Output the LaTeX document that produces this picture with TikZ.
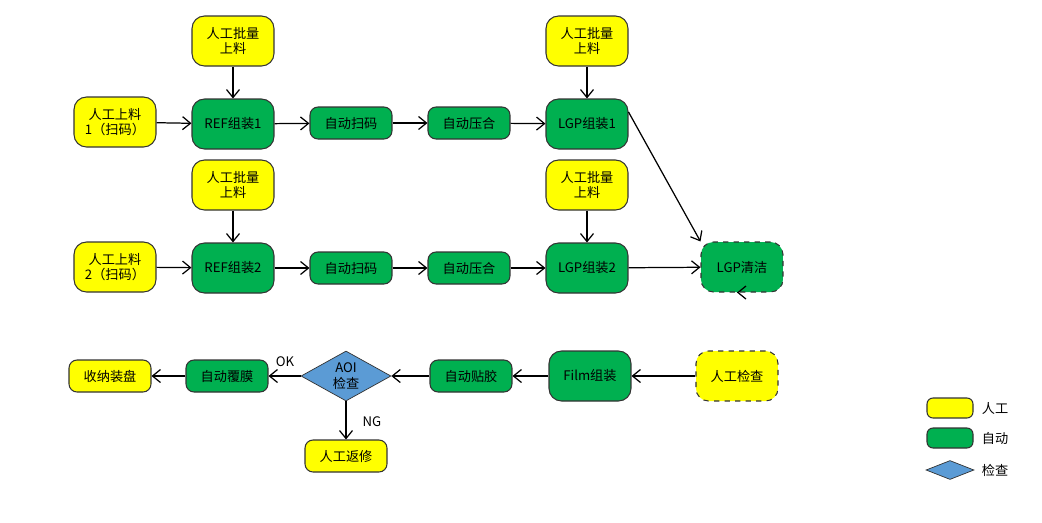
\documentclass[tikz,border=0pt]{standalone}
\usepackage{fontspec}
\setmainfont{Noto Sans CJK SC}
\usetikzlibrary{arrows.meta,shapes.geometric}
\definecolor{yel}{HTML}{FFFF00}
\definecolor{grn}{HTML}{00B050}
\definecolor{blu}{HTML}{5B9BD5}
\begin{document}
\begin{tikzpicture}[x=0.02cm,y=-0.02cm,
 font=\fontsize{7.5}{9}\selectfont,
 box/.style={draw=black!80,rounded corners=2.5mm,minimum width=1.64cm,align=center,inner sep=1pt,line width=0.6pt},
 big/.style={box,minimum height=1.0cm},
 small/.style={box,minimum height=0.64cm,rounded corners=1.6mm},
 Y/.style={fill=yel},G/.style={fill=grn},
 dia/.style={diamond,aspect=1.8,draw=black!80,fill=blu,minimum width=1.8cm,minimum height=1.0cm,inner sep=0pt,align=center},
 ar/.style={-{Straight Barb[length=1.6mm,width=2.6mm]},line width=0.7pt}]
\useasboundingbox (0,0) rectangle (1042,522);
\node[big,Y] (t1) at (233,41) {人工批量\\上料};
\node[big,Y] (t2) at (587,41) {人工批量\\上料};
\node[big,Y] (m1) at (115,122) {人工上料\\1（扫码）};
\node[big,G] (r1) at (233,124) {REF组装1};
\node[small,G] (s1) at (351,123) {自动扫码};
\node[small,G] (p1) at (469,123) {自动压合};
\node[big,G] (l1) at (587,124) {LGP组装1};
\node[big,Y] (t3) at (233,185) {人工批量\\上料};
\node[big,Y] (t4) at (587,185) {人工批量\\上料};
\node[big,Y] (m2) at (115,267) {人工上料\\2（扫码）};
\node[big,G] (r2) at (233,268) {REF组装2};
\node[small,G] (s2) at (351,268) {自动扫码};
\node[small,G] (p2) at (469,268) {自动压合};
\node[big,G] (l2) at (587,268) {LGP组装2};
\node[big,G,dashed] (c) at (742,267) {LGP清洁};
\node[big,Y,dashed] (k) at (737,376) {人工检查};
\node[big,G] (f) at (590,376) {Film组装};
\node[small,G] (g) at (471,376) {自动贴胶};
\node[dia] (a) at (346,376) {AOI\\检查};
\node[small,G] (o) at (227,376) {自动覆膜};
\node[small,Y] (n) at (110,376) {收纳装盘};
\node[small,Y] (rw) at (346,456) {人工返修};
\node (ok) at (285,362) {OK};
\node (ng) at (372,422) {NG};
\draw[ar] (t1)--(r1); \draw[ar] (t2)--(l1);
\draw[ar] (m1)--(r1); \draw[ar] (r1)--(s1); \draw[ar] (s1)--(p1); \draw[ar] (p1)--(l1);
\draw[ar] (t3)--(r2); \draw[ar] (t4)--(l2);
\draw[ar] (m2)--(r2); \draw[ar] (r2)--(s2); \draw[ar] (s2)--(p2); \draw[ar] (p2)--(l2);
\draw[ar] (l1.east|-0,112)--(c.north west);
\draw[ar] (l2)--(c); \draw[ar] (c)--(k|-c.south);
\draw[ar] (k)--(f); \draw[ar] (f)--(g); \draw[ar] (g)--(a); \draw[ar] (a)--(o); \draw[ar] (o)--(n);
\draw[ar] (a)--(rw);
\node[draw=black!80,fill=yel,rounded corners=1.2mm,minimum width=0.92cm,minimum height=0.4cm,line width=0.6pt] (ly) at (950,408) {};
\node[draw=black!80,fill=grn,rounded corners=1.2mm,minimum width=0.92cm,minimum height=0.4cm,line width=0.6pt] (lg) at (950,438) {};
\node[diamond,aspect=2.4,draw=black!80,fill=blu,minimum width=0.96cm,minimum height=0.38cm,inner sep=0pt] (ld) at (950,470) {};
\node (ty) at (995,408) {人工};
\node (tg) at (995,438) {自动};
\node (td) at (995,470) {检查};
\end{tikzpicture}
\end{document}
